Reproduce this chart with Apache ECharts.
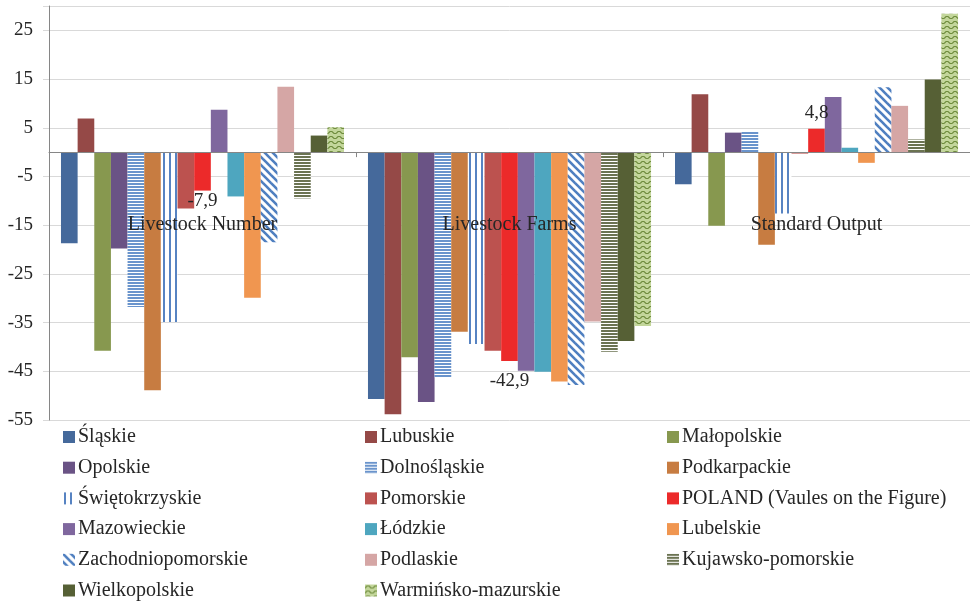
<!DOCTYPE html>
<html>
<head>
<meta charset="utf-8">
<script src="https://cdn.jsdelivr.net/npm/echarts@6/dist/echarts.min.js"></script>
<style>
html,body{margin:0;padding:0;background:#fff;}
#chart{width:970px;height:601px;}
</style>
</head>
<body>
<div id="chart"></div>
<script>
const categories = ['Livestock Number', 'Livestock Farms', 'Standard Output'];
const seriesNames = ['Śląskie','Lubuskie','Małopolskie','Opolskie','Dolnośląskie','Podkarpackie',
  'Świętokrzyskie','Pomorskie','POLAND (Vaules on the Figure)','Mazowieckie','Łódzkie','Lubelskie',
  'Zachodniopomorskie','Podlaskie','Kujawsko-pomorskie','Wielkopolskie','Warmińsko-mazurskie'];
const slaskie = [-18.7, -50.7, -6.6];
const lubuskie = [6.9, -53.8, 11.9];
const malopolskie = [-40.8, -42.1, -15.1];
const opolskie = [-19.8, -51.3, 4.0];
const dolnoslaskie = [-31.8, -46.2, 4.2];
const podkarpackie = [-48.9, -36.9, -19.0];
const swietokrzyskie = [-34.9, -39.4, -12.6];
const pomorskie = [-11.6, -40.8, -0.3];
const poland = [-7.9, -42.9, 4.8];
const mazowieckie = [8.7, -44.9, 11.3];
const lodzkie = [-9.1, -45.1, 0.9];
const lubelskie = [-29.9, -47.1, -2.2];
const zachodniopomorskie = [-18.5, -47.8, 13.3];
const podlaskie = [13.4, -34.8, 9.5];
const kujawsko = [-9.5, -41.0, 2.6];
const wielkopolskie = [3.4, -38.8, 14.9];
const warminsko = [5.1, -35.7, 28.4];
const yTicks = [-55, -45, -35, -25, -15, -5, 5, 15, 25];

const allValues = [slaskie, lubuskie, malopolskie, opolskie, dolnoslaskie, podkarpackie, swietokrzyskie,
  pomorskie, poland, mazowieckie, lodzkie, lubelskie, zachodniopomorskie, podlaskie, kujawsko, wielkopolskie, warminsko];

function pat(w, h, draw) {
  const c = document.createElement('canvas');
  c.width = w; c.height = h;
  const ctx = c.getContext('2d');
  draw(ctx, w, h);
  return { image: c, repeat: 'repeat' };
}
const hStripeBlue = pat(4, 3, (ctx, w, h) => {
  ctx.fillStyle = '#ffffff'; ctx.fillRect(0, 0, w, h);
  ctx.fillStyle = '#6a94cc'; ctx.fillRect(0, 0, w, 2);
});
const vStripeBlue = pat(6, 4, (ctx, w, h) => {
  ctx.fillStyle = '#ffffff'; ctx.fillRect(0, 0, w, h);
  ctx.fillStyle = '#5783c2'; ctx.fillRect(1, 0, 2, h);
});
const diagBlue = pat(8, 8, (ctx, w, h) => {
  ctx.fillStyle = '#ffffff'; ctx.fillRect(0, 0, w, h);
  ctx.strokeStyle = '#4f7fc0'; ctx.lineWidth = 2.6;
  for (let k = -1; k <= 1; k++) {
    ctx.beginPath(); ctx.moveTo(-2 + k * 8, -2); ctx.lineTo(10 + k * 8, 10); ctx.stroke();
  }
});
const hStripeOlive = pat(4, 3, (ctx, w, h) => {
  ctx.fillStyle = '#ffffff'; ctx.fillRect(0, 0, w, h);
  ctx.fillStyle = '#6b7352'; ctx.fillRect(0, 0, w, 2);
});
const waveGreen = pat(8, 5, (ctx, w, h) => {
  ctx.fillStyle = '#c3d69b'; ctx.fillRect(0, 0, w, h);
  ctx.strokeStyle = '#6f8c3e'; ctx.lineWidth = 1.2;
  ctx.beginPath();
  ctx.moveTo(0, 3.5); ctx.lineTo(2, 1.5); ctx.lineTo(4, 1.5); ctx.lineTo(6, 3.5); ctx.lineTo(8, 3.5);
  ctx.stroke();
});

const colors = ['#45699b', '#954947', '#87984f', '#6a5385', hStripeBlue, '#c77c41',
  vStripeBlue, '#bc524f', '#ec2a2a', '#7f679e', '#4ea6bf', '#f09650',
  diagBlue, '#d5a6a5', hStripeOlive, '#566035', waveGreen];

const FONT = '"Liberation Serif", "Times New Roman", serif';
const TXT = '#262626';

const labelDist = [1, 10, 6];
const series = seriesNames.map((name, i) => {
  const s = {
    name: name,
    type: 'bar',
    barGap: '0%',
    barCategoryGap: '7.8%',
    itemStyle: { color: colors[i] },
    data: allValues[i].slice()
  };
  if (i === 8) {
    s.data = allValues[i].map((v, j) => ({
      value: v,
      label: {
        show: true,
        position: v < 0 ? 'bottom' : 'top',
        distance: labelDist[j],
        formatter: (p) => String(p.value).replace('.', ','),
        fontFamily: FONT, fontSize: 19, color: TXT
      }
    }));
  }
  return s;
});

const legendCols = [[0, 3, 6, 9, 12, 15], [1, 4, 7, 10, 13, 16], [2, 5, 8, 11, 14]];
const legendLefts = [63, 365, 667];
const legends = legendCols.map((idx, c) => ({
  orient: 'vertical',
  left: legendLefts[c],
  top: 427,
  itemWidth: 12,
  itemHeight: 12,
  itemGap: 10.7,
  icon: 'rect',
  padding: 0,
  selectedMode: false,
  data: idx.map(i => seriesNames[i]),
  textStyle: { fontFamily: FONT, fontSize: 20, color: TXT, lineHeight: 20, padding: [0, 0, 0, -2] }
}));

const chart = echarts.init(document.getElementById('chart'), null, { renderer: 'canvas' });
chart.setOption({
  animation: false,
  backgroundColor: '#ffffff',
  legend: legends,
  grid: { left: 49, right: -3, top: 6, bottom: 181, containLabel: false },
  xAxis: {
    type: 'category',
    data: categories,
    z: 10,
    axisLine: { onZero: true, lineStyle: { color: '#868686', width: 1 } },
    axisTick: { show: true, length: 5, lineStyle: { color: '#868686' } },
    axisLabel: { margin: -205, fontFamily: FONT, fontSize: 20, color: TXT },
    splitLine: { show: false }
  },
  yAxis: {
    type: 'value',
    min: -55,
    max: 30,
    interval: 10,
    axisLine: { show: true, lineStyle: { color: '#868686', width: 1 } },
    axisTick: { show: true, length: 6, lineStyle: { color: '#d9d9d9' } },
    axisLabel: {
      margin: 16, fontFamily: FONT, fontSize: 19, color: TXT,
      formatter: (v) => yTicks.indexOf(v) >= 0 ? String(v) : ''
    },
    splitLine: { show: true, lineStyle: { color: '#d9d9d9', width: 1 } }
  },
  series: series
});
</script>
</body>
</html>
